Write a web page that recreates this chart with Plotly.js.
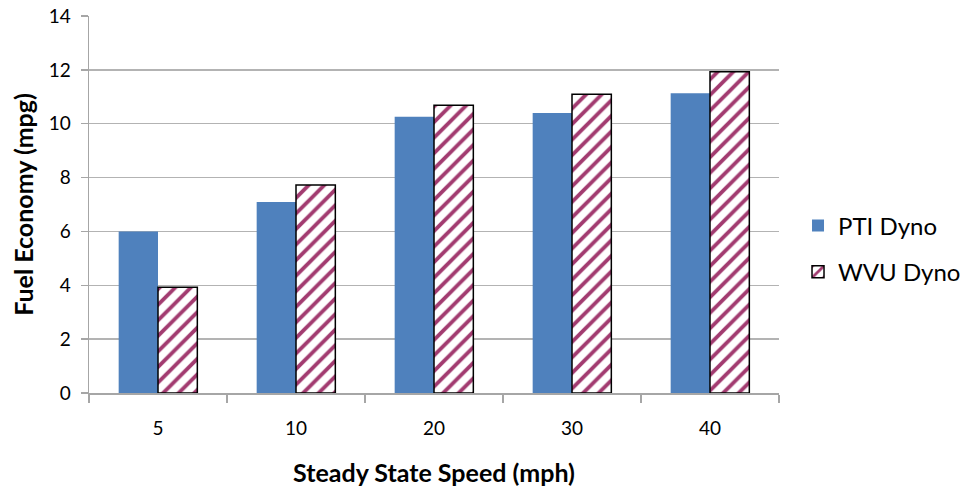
<!DOCTYPE html>
<html>
<head>
<meta charset="utf-8">
<script src="https://cdn.plot.ly/plotly-3.0.1.min.js"></script>
<style>html,body{margin:0;padding:0;background:#fff;}</style>
</head>
<body>
<div id="chart" style="width:972px;height:487px;"></div>
<script>
const speeds = ["5", "10", "20", "30", "40"];
const ptiDyno = [6.0, 7.09, 10.26, 10.40, 11.13];
const wvuDyno = [3.93, 7.72, 10.69, 11.09, 11.93];

const font = "Lato, 'Open Sans', 'Liberation Sans', sans-serif";

const traces = [
  {
    type: "bar", name: "PTI Dyno", x: speeds, y: ptiDyno, legendgroup: "a",
    marker: {color: "#4F81BD", line: {width: 0}},
    hoverinfo: "x+y"
  },
  {
    type: "bar", name: "WVU Dyno", x: speeds, y: wvuDyno, legendgroup: "b",
    marker: {
      color: "#ffffff",
      line: {color: "#000000", width: 1.5},
      pattern: {shape: "/", fgcolor: "#A23B70", bgcolor: "#ffffff", size: 11, solidity: 0.35}
    },
    hoverinfo: "x+y"
  }
];

const layout = {
  width: 972, height: 487,
  margin: {l: 89, r: 193, t: 16, b: 94},
  paper_bgcolor: "#ffffff", plot_bgcolor: "#ffffff",
  barmode: "group", bargap: 0.43, bargroupgap: 0,
  font: {family: font, size: 19, color: "#000"},
  showlegend: true,
  legend: {xref: "container", yref: "container",
           x: 0.821, xanchor: "left", y: 0.4887, yanchor: "middle",
           traceorder: "grouped", tracegroupgap: 12,
           font: {family: font, size: 24, color: "#000"},
           bgcolor: "rgba(0,0,0,0)"},
  xaxis: {
    type: "category",
    title: {text: "<b>Steady State Speed (mph)</b>", font: {family: font, size: 25}, standoff: 26},
    showline: true, linecolor: "#a6a6a6", linewidth: 1.5,
    ticks: "outside", tickson: "boundaries", ticklen: 8, tickcolor: "#a6a6a6", tickwidth: 1.5,
    tickfont: {family: font, size: 19},
    ticklabelstandoff: 18,
    automargin: false,
    showgrid: false, fixedrange: true
  },
  yaxis: {
    title: {text: "<b>Fuel Economy (mpg)</b>", font: {family: font, size: 25}, standoff: 8},
    range: [0, 14], dtick: 2, tick0: 0,
    showline: true, linecolor: "#a6a6a6", linewidth: 1.5,
    ticks: "outside", ticklen: 7, tickcolor: "#a6a6a6", tickwidth: 1.5,
    ticklabelstandoff: 6,
    showgrid: true, gridcolor: "#b3b3b3", gridwidth: 1.5,
    zeroline: false,
    tickfont: {family: font, size: 19},
    automargin: false,
    fixedrange: true
  }
};

Plotly.newPlot("chart", traces, layout, {displayModeBar: false, staticPlot: true});
</script>
</body>
</html>
